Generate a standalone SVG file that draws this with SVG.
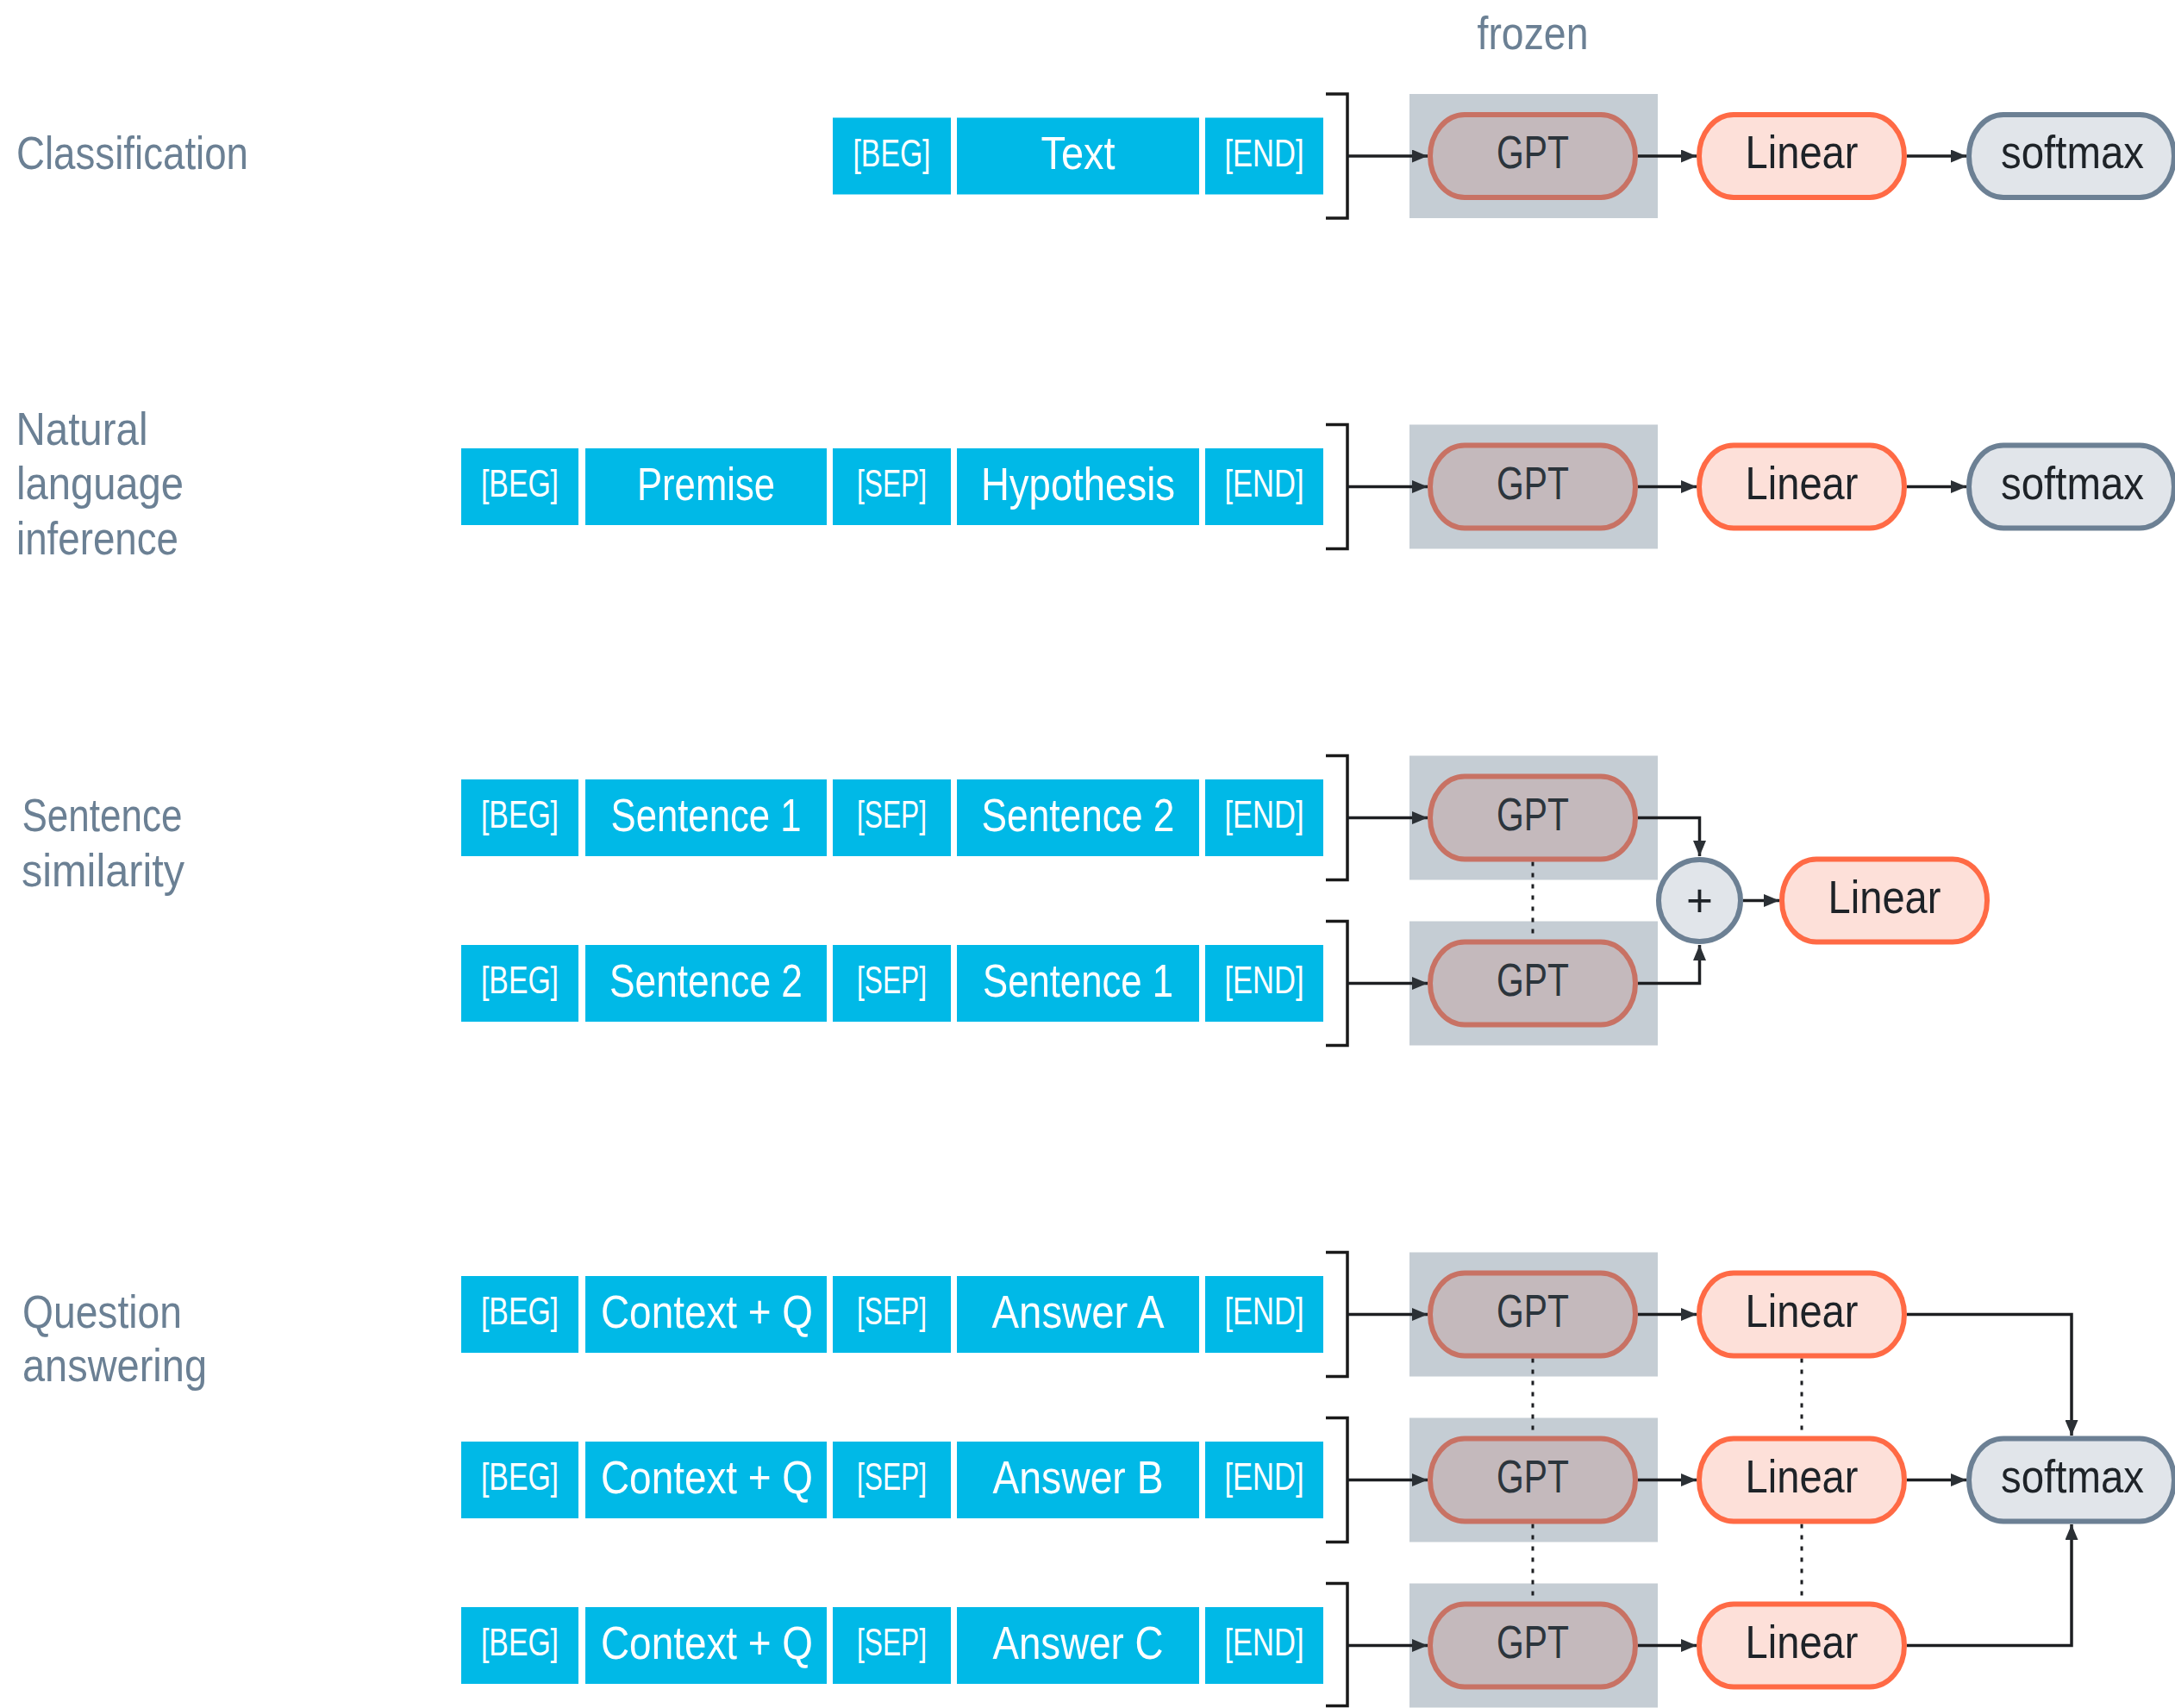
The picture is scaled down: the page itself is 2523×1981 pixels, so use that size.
<svg xmlns="http://www.w3.org/2000/svg" width="2523" height="1981" viewBox="0 0 2523 1981">
<style>
.bg{fill:#ffffff}
.lbl{font-family:"Liberation Sans",Arial,sans-serif;font-size:53px;fill:#6b8094}
.tok{fill:#00b9e7}
.ts{font-family:"Liberation Sans",Arial,sans-serif;font-size:44px;fill:#ffffff;text-anchor:middle}
.tb{font-family:"Liberation Sans",Arial,sans-serif;font-size:53px;fill:#ffffff;text-anchor:middle}
.frz{fill:#c5cdd4}
.gpt{fill:#c4b9bc;stroke:#c87264;stroke-width:6}
.lin{fill:#fde0d9;stroke:#ff6a45;stroke-width:6}
.smx{fill:#e1e5ea;stroke:#6c8094;stroke-width:6}
.pt{font-family:"Liberation Sans",Arial,sans-serif;font-size:53px;fill:#1e2328;text-anchor:middle}
.gt{fill:#2c353c}
.br{fill:none;stroke:#1a1a1a;stroke-width:3.5}
.ar{fill:none;stroke:#1d1f22;stroke-width:3.5;marker-end:url(#ah)}
.dt{fill:none;stroke:#1d1f22;stroke-width:3;stroke-dasharray:5 8}
</style>
<defs>
<marker id="ah" markerUnits="userSpaceOnUse" markerWidth="18" markerHeight="15" refX="18" refY="7.5" orient="auto">
<path d="M0,0 L18,7.5 L0,15 z" fill="#2b3035"/>
</marker>
</defs>
<rect class="bg" x="0" y="0" width="2523" height="1981"/>

<g id="labels">
<text class="lbl" x="1778" y="57" text-anchor="middle" textLength="129" lengthAdjust="spacingAndGlyphs">frozen</text>
<text class="lbl" x="19" y="196" textLength="269" lengthAdjust="spacingAndGlyphs">Classification</text>
<text class="lbl" x="18.5" y="516" textLength="153" lengthAdjust="spacingAndGlyphs">Natural</text>
<text class="lbl" x="19" y="579" textLength="194" lengthAdjust="spacingAndGlyphs">language</text>
<text class="lbl" x="19" y="643" textLength="188" lengthAdjust="spacingAndGlyphs">inference</text>
<text class="lbl" x="25.5" y="964" textLength="186" lengthAdjust="spacingAndGlyphs">Sentence</text>
<text class="lbl" x="25" y="1028" textLength="189" lengthAdjust="spacingAndGlyphs">similarity</text>
<text class="lbl" x="26" y="1540" textLength="185" lengthAdjust="spacingAndGlyphs">Question</text>
<text class="lbl" x="26" y="1602" textLength="214" lengthAdjust="spacingAndGlyphs">answering</text>
</g>

<!-- Row 1: Classification -->
<g id="row1-tokens">
<rect class="tok" x="966" y="136.5" width="137" height="89"/><text class="ts" x="1034.5" y="192.5" textLength="90" lengthAdjust="spacingAndGlyphs">[BEG]</text>
<rect class="tok" x="1110" y="136.5" width="281" height="89"/><text class="tb" x="1250.5" y="196" textLength="86" lengthAdjust="spacingAndGlyphs">Text</text>
<rect class="tok" x="1398" y="136.5" width="137" height="89"/><text class="ts" x="1466.5" y="192.5" textLength="92" lengthAdjust="spacingAndGlyphs">[END]</text>
</g>

<!-- Row 2: NLI -->
<g id="row2-tokens">
<rect class="tok" x="535" y="520" width="136" height="89"/><text class="ts" x="603" y="576" textLength="90" lengthAdjust="spacingAndGlyphs">[BEG]</text>
<rect class="tok" x="679" y="520" width="280" height="89"/><text class="tb" x="819" y="579.5" textLength="160" lengthAdjust="spacingAndGlyphs">Premise</text>
<rect class="tok" x="966" y="520" width="137" height="89"/><text class="ts" x="1034.5" y="576" textLength="81" lengthAdjust="spacingAndGlyphs">[SEP]</text>
<rect class="tok" x="1110" y="520" width="281" height="89"/><text class="tb" x="1250.5" y="579.5" textLength="225" lengthAdjust="spacingAndGlyphs">Hypothesis</text>
<rect class="tok" x="1398" y="520" width="137" height="89"/><text class="ts" x="1466.5" y="576" textLength="92" lengthAdjust="spacingAndGlyphs">[END]</text>
</g>

<!-- Row 3a -->
<g id="row3a-tokens">
<rect class="tok" x="535" y="904" width="136" height="89"/><text class="ts" x="603" y="960" textLength="90" lengthAdjust="spacingAndGlyphs">[BEG]</text>
<rect class="tok" x="679" y="904" width="280" height="89"/><text class="tb" x="819" y="963.5" textLength="221" lengthAdjust="spacingAndGlyphs">Sentence 1</text>
<rect class="tok" x="966" y="904" width="137" height="89"/><text class="ts" x="1034.5" y="960" textLength="81" lengthAdjust="spacingAndGlyphs">[SEP]</text>
<rect class="tok" x="1110" y="904" width="281" height="89"/><text class="tb" x="1250.5" y="963.5" textLength="224" lengthAdjust="spacingAndGlyphs">Sentence 2</text>
<rect class="tok" x="1398" y="904" width="137" height="89"/><text class="ts" x="1466.5" y="960" textLength="92" lengthAdjust="spacingAndGlyphs">[END]</text>
</g>

<!-- Row 3b -->
<g id="row3b-tokens">
<rect class="tok" x="535" y="1096" width="136" height="89"/><text class="ts" x="603" y="1152" textLength="90" lengthAdjust="spacingAndGlyphs">[BEG]</text>
<rect class="tok" x="679" y="1096" width="280" height="89"/><text class="tb" x="819" y="1155.5" textLength="224" lengthAdjust="spacingAndGlyphs">Sentence 2</text>
<rect class="tok" x="966" y="1096" width="137" height="89"/><text class="ts" x="1034.5" y="1152" textLength="81" lengthAdjust="spacingAndGlyphs">[SEP]</text>
<rect class="tok" x="1110" y="1096" width="281" height="89"/><text class="tb" x="1250.5" y="1155.5" textLength="221" lengthAdjust="spacingAndGlyphs">Sentence 1</text>
<rect class="tok" x="1398" y="1096" width="137" height="89"/><text class="ts" x="1466.5" y="1152" textLength="92" lengthAdjust="spacingAndGlyphs">[END]</text>
</g>

<!-- Row 4a -->
<g id="row4a-tokens">
<rect class="tok" x="535" y="1480" width="136" height="89"/><text class="ts" x="603" y="1536" textLength="90" lengthAdjust="spacingAndGlyphs">[BEG]</text>
<rect class="tok" x="679" y="1480" width="280" height="89"/><text class="tb" x="820" y="1539.5" textLength="246" lengthAdjust="spacingAndGlyphs">Context + Q</text>
<rect class="tok" x="966" y="1480" width="137" height="89"/><text class="ts" x="1034.5" y="1536" textLength="81" lengthAdjust="spacingAndGlyphs">[SEP]</text>
<rect class="tok" x="1110" y="1480" width="281" height="89"/><text class="tb" x="1250.5" y="1539.5" textLength="200" lengthAdjust="spacingAndGlyphs">Answer A</text>
<rect class="tok" x="1398" y="1480" width="137" height="89"/><text class="ts" x="1466.5" y="1536" textLength="92" lengthAdjust="spacingAndGlyphs">[END]</text>
</g>

<!-- Row 4b -->
<g id="row4b-tokens">
<rect class="tok" x="535" y="1672" width="136" height="89"/><text class="ts" x="603" y="1728" textLength="90" lengthAdjust="spacingAndGlyphs">[BEG]</text>
<rect class="tok" x="679" y="1672" width="280" height="89"/><text class="tb" x="820" y="1731.5" textLength="246" lengthAdjust="spacingAndGlyphs">Context + Q</text>
<rect class="tok" x="966" y="1672" width="137" height="89"/><text class="ts" x="1034.5" y="1728" textLength="81" lengthAdjust="spacingAndGlyphs">[SEP]</text>
<rect class="tok" x="1110" y="1672" width="281" height="89"/><text class="tb" x="1250.5" y="1731.5" textLength="198" lengthAdjust="spacingAndGlyphs">Answer B</text>
<rect class="tok" x="1398" y="1672" width="137" height="89"/><text class="ts" x="1466.5" y="1728" textLength="92" lengthAdjust="spacingAndGlyphs">[END]</text>
</g>

<!-- Row 4c -->
<g id="row4c-tokens">
<rect class="tok" x="535" y="1864" width="136" height="89"/><text class="ts" x="603" y="1920" textLength="90" lengthAdjust="spacingAndGlyphs">[BEG]</text>
<rect class="tok" x="679" y="1864" width="280" height="89"/><text class="tb" x="820" y="1923.5" textLength="246" lengthAdjust="spacingAndGlyphs">Context + Q</text>
<rect class="tok" x="966" y="1864" width="137" height="89"/><text class="ts" x="1034.5" y="1920" textLength="81" lengthAdjust="spacingAndGlyphs">[SEP]</text>
<rect class="tok" x="1110" y="1864" width="281" height="89"/><text class="tb" x="1250.5" y="1923.5" textLength="198" lengthAdjust="spacingAndGlyphs">Answer C</text>
<rect class="tok" x="1398" y="1864" width="137" height="89"/><text class="ts" x="1466.5" y="1920" textLength="92" lengthAdjust="spacingAndGlyphs">[END]</text>
</g>

<!-- frozen backgrounds -->
<g id="frozen-areas">
<rect class="frz" x="1635" y="109" width="288" height="144"/>
<rect class="frz" x="1635" y="492.5" width="288" height="144"/>
<rect class="frz" x="1635" y="876.5" width="288" height="144"/>
<rect class="frz" x="1635" y="1068.5" width="288" height="144"/>
<rect class="frz" x="1635" y="1452.5" width="288" height="144"/>
<rect class="frz" x="1635" y="1644.5" width="288" height="144"/>
<rect class="frz" x="1635" y="1836.5" width="288" height="144"/>
</g>

<g id="connectors">
<path class="br" d="M1538,109 H1563 V253 H1538"/>
<path class="br" d="M1538,492.5 H1563 V636.5 H1538"/>
<path class="br" d="M1538,876.5 H1563 V1020.5 H1538"/>
<path class="br" d="M1538,1068.5 H1563 V1212.5 H1538"/>
<path class="br" d="M1538,1452.5 H1563 V1596.5 H1538"/>
<path class="br" d="M1538,1644.5 H1563 V1788.5 H1538"/>
<path class="br" d="M1538,1836.5 H1563 V1978.5 H1538"/>
<path class="ar" d="M1563,181 H1656"/>
<path class="ar" d="M1563,564.5 H1656"/>
<path class="ar" d="M1563,948.5 H1656"/>
<path class="ar" d="M1563,1140.5 H1656"/>
<path class="ar" d="M1563,1524.5 H1656"/>
<path class="ar" d="M1563,1716.5 H1656"/>
<path class="ar" d="M1563,1908.5 H1656"/>
<path class="ar" d="M1900,181 H1968"/>
<path class="ar" d="M2212,181 H2281"/>
<path class="ar" d="M1900,564.5 H1968"/>
<path class="ar" d="M2212,564.5 H2281"/>
<path class="ar" d="M1900,948.5 H1971.5 V993"/>
<path class="ar" d="M1900,1140.5 H1971.5 V1096"/>
<path class="ar" d="M2022,1044.5 H2064"/>
<path class="ar" d="M1900,1524.5 H1968"/>
<path class="ar" d="M1900,1716.5 H1968"/>
<path class="ar" d="M1900,1908.5 H1968"/>
<path class="ar" d="M2212,1524.5 H2403 V1665"/>
<path class="ar" d="M2212,1716.5 H2281"/>
<path class="ar" d="M2212,1908.5 H2403 V1768"/>
<path class="dt" d="M1778,999.5 V1089.5"/>
<path class="dt" d="M1778,1575.5 V1665.5"/>
<path class="dt" d="M1778,1767.5 V1857.5"/>
<path class="dt" d="M2090,1575.5 V1665.5"/>
<path class="dt" d="M2090,1767.5 V1857.5"/>
</g>

<!-- Row 1 nodes -->
<g id="gpt-1"><rect class="gpt" x="1659" y="133" width="238" height="96" rx="40" ry="48"/><text class="pt gt" x="1778" y="195" textLength="84" lengthAdjust="spacingAndGlyphs">GPT</text></g>
<g id="linear-1"><rect class="lin" x="1971" y="133" width="238" height="96" rx="40" ry="48"/><text class="pt" x="2090" y="195" textLength="131" lengthAdjust="spacingAndGlyphs">Linear</text></g>
<g id="softmax-1"><rect class="smx" x="2284" y="133" width="238" height="96" rx="40" ry="48"/><text class="pt" x="2404" y="195" textLength="166" lengthAdjust="spacingAndGlyphs">softmax</text></g>

<!-- Row 2 nodes -->
<g id="gpt-2"><rect class="gpt" x="1659" y="516.5" width="238" height="96" rx="40" ry="48"/><text class="pt gt" x="1778" y="578.5" textLength="84" lengthAdjust="spacingAndGlyphs">GPT</text></g>
<g id="linear-2"><rect class="lin" x="1971" y="516.5" width="238" height="96" rx="40" ry="48"/><text class="pt" x="2090" y="578.5" textLength="131" lengthAdjust="spacingAndGlyphs">Linear</text></g>
<g id="softmax-2"><rect class="smx" x="2284" y="516.5" width="238" height="96" rx="40" ry="48"/><text class="pt" x="2404" y="578.5" textLength="166" lengthAdjust="spacingAndGlyphs">softmax</text></g>

<!-- Row 3 nodes -->
<g id="gpt-3a"><rect class="gpt" x="1659" y="900.5" width="238" height="96" rx="40" ry="48"/><text class="pt gt" x="1778" y="962.5" textLength="84" lengthAdjust="spacingAndGlyphs">GPT</text></g>
<g id="gpt-3b"><rect class="gpt" x="1659" y="1092.5" width="238" height="96" rx="40" ry="48"/><text class="pt gt" x="1778" y="1154.5" textLength="84" lengthAdjust="spacingAndGlyphs">GPT</text></g>
<g id="plus-3"><circle class="smx" cx="1971.5" cy="1044.5" r="47.5"/><text class="pt" x="1971.5" y="1063" font-size="56">+</text></g>
<g id="linear-3"><rect class="lin" x="2067" y="996.5" width="238" height="96" rx="40" ry="48"/><text class="pt" x="2186" y="1058.5" textLength="131" lengthAdjust="spacingAndGlyphs">Linear</text></g>

<!-- Row 4 nodes -->
<g id="gpt-4a"><rect class="gpt" x="1659" y="1476.5" width="238" height="96" rx="40" ry="48"/><text class="pt gt" x="1778" y="1538.5" textLength="84" lengthAdjust="spacingAndGlyphs">GPT</text></g>
<g id="gpt-4b"><rect class="gpt" x="1659" y="1668.5" width="238" height="96" rx="40" ry="48"/><text class="pt gt" x="1778" y="1730.5" textLength="84" lengthAdjust="spacingAndGlyphs">GPT</text></g>
<g id="gpt-4c"><rect class="gpt" x="1659" y="1860.5" width="238" height="96" rx="40" ry="48"/><text class="pt gt" x="1778" y="1922.5" textLength="84" lengthAdjust="spacingAndGlyphs">GPT</text></g>
<g id="linear-4a"><rect class="lin" x="1971" y="1476.5" width="238" height="96" rx="40" ry="48"/><text class="pt" x="2090" y="1538.5" textLength="131" lengthAdjust="spacingAndGlyphs">Linear</text></g>
<g id="linear-4b"><rect class="lin" x="1971" y="1668.5" width="238" height="96" rx="40" ry="48"/><text class="pt" x="2090" y="1730.5" textLength="131" lengthAdjust="spacingAndGlyphs">Linear</text></g>
<g id="linear-4c"><rect class="lin" x="1971" y="1860.5" width="238" height="96" rx="40" ry="48"/><text class="pt" x="2090" y="1922.5" textLength="131" lengthAdjust="spacingAndGlyphs">Linear</text></g>
<g id="softmax-4"><rect class="smx" x="2284" y="1668.5" width="238" height="96" rx="40" ry="48"/><text class="pt" x="2404" y="1730.5" textLength="166" lengthAdjust="spacingAndGlyphs">softmax</text></g>
</svg>
